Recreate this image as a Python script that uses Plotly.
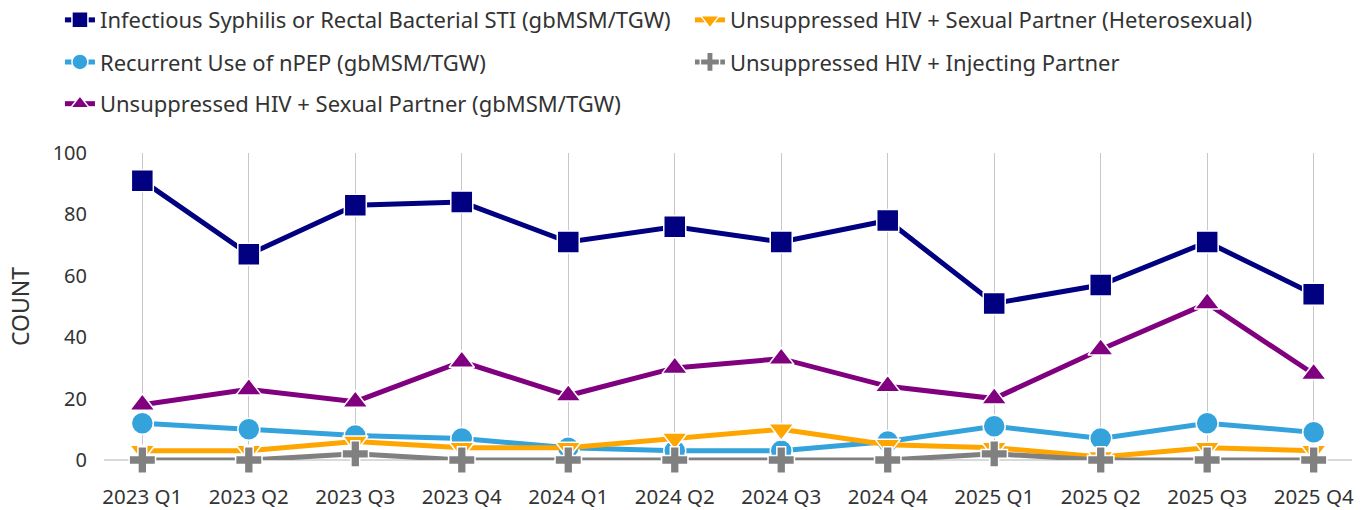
import plotly.graph_objects as go

quarters = ["2023 Q1", "2023 Q2", "2023 Q3", "2023 Q4", "2024 Q1", "2024 Q2",
            "2024 Q3", "2024 Q4", "2025 Q1", "2025 Q2", "2025 Q3", "2025 Q4"]

sti_msm = [91, 67, 83, 84, 71, 76, 71, 78, 51, 57, 71, 54]
npep_msm = [12, 10, 8, 7, 4, 3, 3, 6, 11, 7, 12, 9]
hiv_sex_msm = [18, 23, 19, 32, 21, 30, 33, 24, 20, 36, 51, 28]
hiv_sex_het = [3, 3, 6, 4, 4, 7, 10, 5, 4, 1, 4, 3]
hiv_inject = [0, 0, 2, 0, 0, 0, 0, 0, 2, 0, 0, 0]

names = [
    "Infectious Syphilis or Rectal Bacterial STI (gbMSM/TGW)",
    "Recurrent Use of nPEP (gbMSM/TGW)",
    "Unsuppressed HIV + Sexual Partner (gbMSM/TGW)",
    "Unsuppressed HIV + Sexual Partner (Heterosexual)",
    "Unsuppressed HIV + Injecting Partner",
]

series = [
    (names[0], sti_msm, "#000080", "square", "legend", 1),
    (names[1], npep_msm, "#34A3DC", "circle", "legend2", 1),
    (names[2], hiv_sex_msm, "#800080", "triangle-up", "legend3", 1),
    (names[3], hiv_sex_het, "#FFA500", "triangle-down", "legend", 2),
    (names[4], hiv_inject, "#808080", "cross", "legend2", 2),
]

fig = go.Figure()
for name, vals, color, sym, leg, rank in series:
    fig.add_trace(go.Scatter(
        x=quarters, y=vals, name=name, mode="lines+markers",
        line=dict(color=color, width=5),
        marker=dict(symbol=sym, size=22, color=color,
                    line=dict(color="white", width=1.5)),
        legend=leg, legendrank=rank, cliponaxis=False,
    ))

leg_common = dict(orientation="h", xanchor="left", yanchor="middle",
                  font=dict(size=22, color="#333333"), entrywidth=585,
                  entrywidthmode="pixels", bgcolor="rgba(0,0,0,0)",
                  traceorder="normal")

x0 = -0.0353
fig.update_layout(
    width=1370, height=510,
    paper_bgcolor="white", plot_bgcolor="white",
    margin=dict(l=104, r=18, t=153, b=50, autoexpand=False),
    font=dict(family="Noto Sans, Open Sans, sans-serif", color="#333333"),
    legend=dict(x=x0, y=1.433, **leg_common),
    legend2=dict(x=x0, y=1.296, **leg_common),
    legend3=dict(x=x0, y=1.160, **leg_common),
    xaxis=dict(showgrid=True, gridcolor="#c8c8c8", gridwidth=1,
               range=[-0.36, 11.36], showline=False, zeroline=False,
               tickfont=dict(size=20.5, color="#333333"), ticks="",
               ticklabelstandoff=22),
    yaxis=dict(range=[0, 100], dtick=20, showgrid=False,
               zeroline=True, zerolinecolor="#d9d9d9", zerolinewidth=2,
               showline=False, ticklabelstandoff=16,
               title=dict(text="COUNT", font=dict(size=23, color="#333333"), standoff=16),
               tickfont=dict(size=20, color="#333333")),
)

fig.write_html("out.html", config={"displayModeBar": False},
               post_script="document.body.style.margin='0';")
